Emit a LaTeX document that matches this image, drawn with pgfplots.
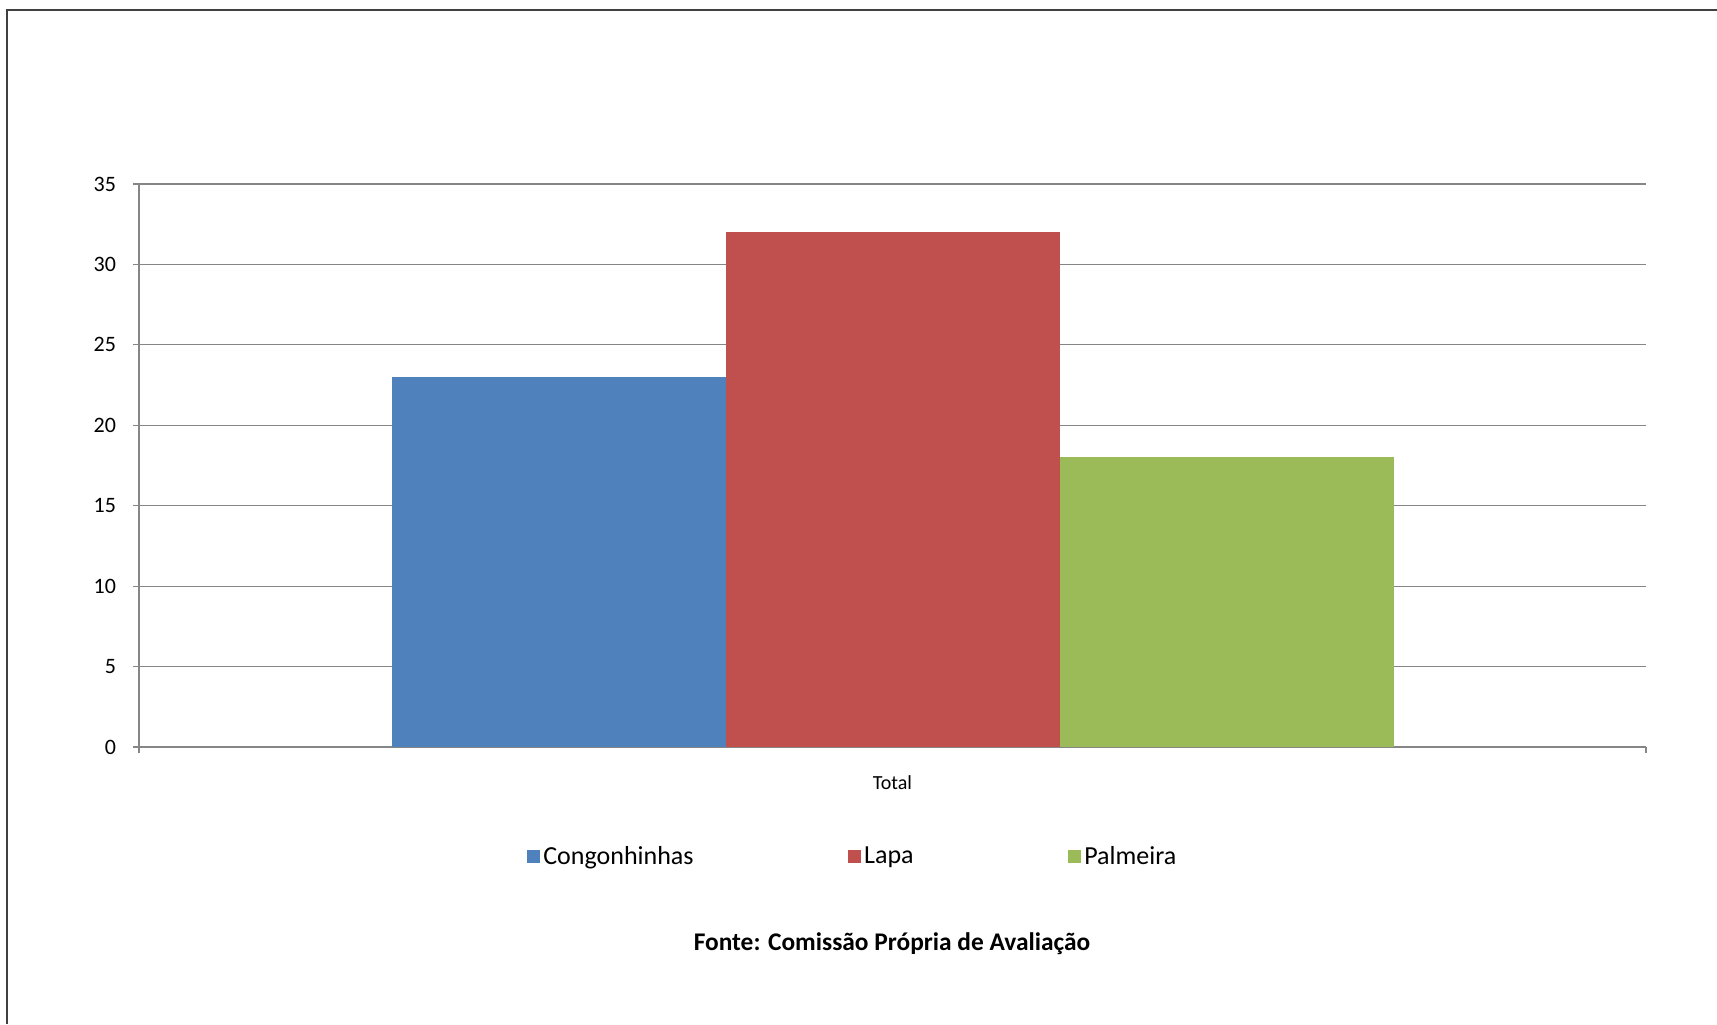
\documentclass[border=0pt]{standalone}
\usepackage{pgfplots}
\pgfplotsset{compat=1.18}
\usepackage{fontspec}
\setmainfont{Carlito}
\definecolor{cblue}{HTML}{4F81BD}
\definecolor{cred}{HTML}{C0504D}
\definecolor{cgreen}{HTML}{9BBB59}
\definecolor{gridgray}{HTML}{868686}
\definecolor{framegray}{HTML}{404040}
\begin{document}
\begin{tikzpicture}[x=0.5pt,y=0.5pt]
\path[use as bounding box] (0,0) rectangle (1717,1024);
\draw[framegray, line width=1pt] (7,0) -- (7,1014) -- (1717,1014);
\begin{axis}[
  at={(69.5pt,138.5pt)}, anchor=south west,
  scale only axis, width=753.5pt, height=281.5pt,
  ybar=0pt, bar width=167pt,
  xmin=-1, xmax=1, ymin=0, ymax=35,
  ytick={0,5,...,35},
  xtick={-1,1}, xticklabels={,},
  extra x ticks={0}, extra x tick labels={Total},
  extra x tick style={major tick length=0pt, xticklabel style={font=\fontsize{10}{12}\selectfont, yshift=-10.7pt}},
  axis x line*=bottom, axis y line*=left,
  axis line style={gridgray, line width=0.6pt, -},
  ymajorgrids, grid style={gridgray, line width=0.6pt},
  tick align=outside, major tick length=3pt,
  tick style={gridgray, line width=0.6pt},
  yticklabel style={font=\fontsize{11}{13}\selectfont, xshift=-5pt},
  /pgf/number format/assume math mode=true,
  legend columns=3,
  legend style={at={(0.474,-0.195)}, anchor=center, draw=none,
    font=\fontsize{13}{15}\selectfont,
    /tikz/every even column/.append style={column sep=75.8pt},
    nodes={inner sep=1.5pt}},
  legend image code/.code={\fill[#1] (0pt,-3.25pt) rectangle (6.5pt,3.25pt);},
]
\addplot[fill=cblue, draw=none] coordinates {(0,23)};
\addplot[fill=cred, draw=none] coordinates {(0,32)};
\addplot[fill=cgreen, draw=none] coordinates {(0,18)};
\legend{Congonhinhas, Lapa, Palmeira}
\end{axis}
\node[font=\bfseries\fontsize{12.7}{15}\selectfont] at (892,80) {Fonte: Comissão Própria de Avaliação};
\end{tikzpicture}
\end{document}
